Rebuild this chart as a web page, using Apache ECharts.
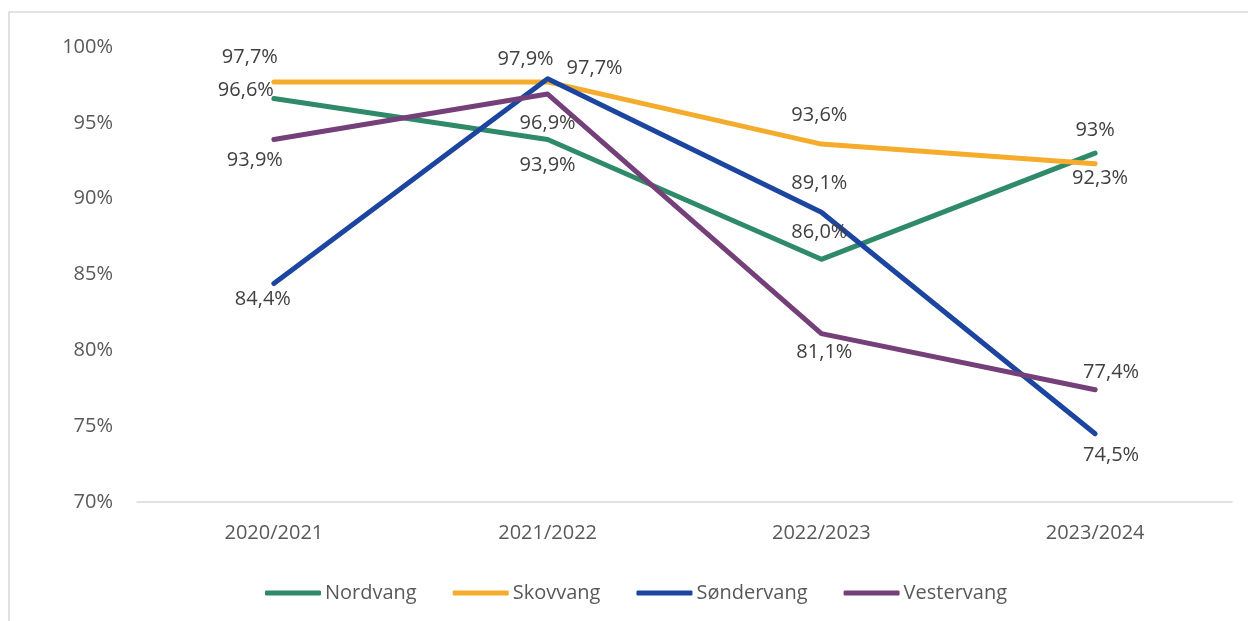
<!DOCTYPE html>
<html>
<head>
<meta charset="utf-8">
<script src="https://cdn.jsdelivr.net/npm/echarts@6/dist/echarts.min.js"></script>
<style>
html,body{margin:0;padding:0;background:#fff;}
#chart{width:1248px;height:621px;}
</style>
</head>
<body>
<div id="chart"></div>
<script>
const categories = ['2020/2021', '2021/2022', '2022/2023', '2023/2024'];
const seriesNames = ['Nordvang', 'Skovvang', 'Søndervang', 'Vestervang'];
const nordvang = [96.6, 93.9, 86.0, 93.0];
const skovvang = [97.7, 97.7, 93.6, 92.3];
const sondervang = [84.4, 97.9, 89.1, 74.5];
const vestervang = [93.9, 96.9, 81.1, 77.4];
const labelTexts = {
  Nordvang: ['96,6%', '93,9%', '86,0%', '93%'],
  Skovvang: ['97,7%', '97,7%', '93,6%', '92,3%'],
  'Søndervang': ['84,4%', '97,9%', '89,1%', '74,5%'],
  Vestervang: ['93,9%', '96,9%', '81,1%', '77,4%']
};
const yTicks = [70, 75, 80, 85, 90, 95, 100];

// label offsets (dx, dy) relative to point
const labelOffsets = {
  Nordvang: [[-28, -8], [0, 26], [-2, -27], [0, -23]],
  Skovvang: [[-24, -25], [47, -14], [-2, -29], [5, 15]],
  'Søndervang': [[-11, 16], [-22, -20], [-2, -29], [16, 22]],
  Vestervang: [[-19, 21], [0, 29], [3, 19], [16, -17]]
};
const colors = {
  Nordvang: '#2E8A69',
  Skovvang: '#F5AB2B',
  'Søndervang': '#1C45A0',
  Vestervang: '#75407A'
};
const values = { Nordvang: nordvang, Skovvang: skovvang, 'Søndervang': sondervang, Vestervang: vestervang };

const FONT = '"Open Sans", "Noto Sans", sans-serif';

const series = seriesNames.map(name => ({
  name: name,
  type: 'line',
  data: values[name].map((v, i) => ({
    value: v,
    label: {
      show: true,
      position: 'inside',
      offset: labelOffsets[name][i],
      formatter: labelTexts[name][i],
      color: '#404040',
      fontSize: 20,
      fontFamily: FONT
    }
  })),
  symbol: 'circle',
  symbolSize: 1,
  itemStyle: { color: colors[name] },
  lineStyle: { width: 5, color: colors[name], cap: 'round', join: 'round' },
  emphasis: { disabled: true },
  animation: false,
  z: 2
}));

const chart = echarts.init(document.getElementById('chart'), null, { renderer: 'canvas' });
chart.setOption({
  backgroundColor: '#ffffff',
  animation: false,
  textStyle: { fontFamily: FONT },
  graphic: [{
    type: 'rect',
    shape: { x: 9, y: 12, width: 1300, height: 700 },
    style: { fill: 'none', stroke: '#D9D9D9', lineWidth: 1.5 },
    silent: true,
    z: -10
  }],
  grid: { left: 137, right: 16, top: 47, bottom: 119 },
  legend: {
    data: seriesNames.map(n => ({ name: n, icon: 'roundRect' })),
    left: 260,
    top: 578,
    itemWidth: 56,
    itemHeight: 5,
    itemGap: 36,
    textStyle: { color: '#595959', fontSize: 20, fontFamily: FONT, padding: [0, 0, 0, -1] }
  },
  xAxis: {
    type: 'category',
    data: categories,
    boundaryGap: true,
    axisLine: { show: true, lineStyle: { color: '#D9D9D9', width: 1.5 } },
    axisTick: { show: false },
    axisLabel: { color: '#595959', fontSize: 20, fontFamily: FONT, margin: 21, lineHeight: 20 },
    splitLine: { show: false }
  },
  yAxis: {
    type: 'value',
    min: yTicks[0],
    max: yTicks[yTicks.length - 1],
    interval: 5,
    axisLine: { show: false },
    axisTick: { show: false },
    splitLine: { show: false },
    axisLabel: { color: '#595959', fontSize: 20, fontFamily: FONT, margin: 24, formatter: v => v + '%' }
  },
  series: series
});
</script>
</body>
</html>
